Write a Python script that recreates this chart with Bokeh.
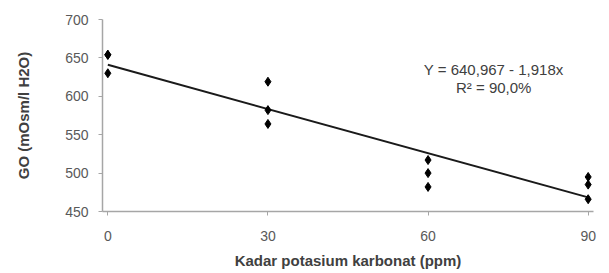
from bokeh.plotting import figure
from bokeh.models import Range1d, FixedTicker, Label
from bokeh.embed import file_html
from bokeh.resources import INLINE

# data
kadar = [0, 0, 0, 30, 30, 30, 60, 60, 60, 90, 90, 90]
go = [654, 654, 630, 619, 582, 564, 517, 500, 482, 495, 485, 466]
intercept = 640.967
slope = -1.918
x_ticks = [0, 30, 60, 90]
y_ticks = [450, 500, 550, 600, 650, 700]
eq_text = "Y = 640,967 - 1,918x"
r2_text = "R² = 90,0%"

p = figure(width=600, height=272, output_backend="svg", toolbar_location=None,
           x_range=Range1d(-1, 91), y_range=Range1d(450, 700),
           min_border_left=102, min_border_right=7, min_border_top=19, min_border_bottom=61)
p.grid.visible = False
p.outline_line_color = None
p.background_fill_color = "white"

for ax in (p.xaxis[0], p.yaxis[0]):
    ax.axis_line_color = "#a6a6a6"
    ax.axis_line_width = 1.5
    ax.major_tick_line_color = "#a6a6a6"
    ax.major_tick_out = 4
    ax.major_tick_in = 0
    ax.minor_tick_line_color = None
    ax.major_label_text_font = "Liberation Sans"
    ax.major_label_text_font_size = "14px"
    ax.major_label_text_color = "#595959"
    ax.axis_label_text_font = "Liberation Sans"
    ax.axis_label_text_font_style = "bold"
    ax.axis_label_text_font_size = "15px"
    ax.axis_label_text_color = "#404040"

p.xaxis.ticker = FixedTicker(ticks=x_ticks)
p.yaxis.ticker = FixedTicker(ticks=y_ticks)
p.xaxis.axis_label = "Kadar potasium karbonat (ppm)"
p.yaxis.axis_label = "GO (mOsm/l H2O)"
p.xaxis.major_label_standoff = 15
p.yaxis.major_label_standoff = 10
p.xaxis.axis_label_standoff = 8
p.yaxis.axis_label_standoff = 30

xs = [x_ticks[0], x_ticks[-1]]
ys = [intercept + slope * x for x in xs]
p.line(xs, ys, line_color="#1a1a1a", line_width=2)
p.scatter(kadar, go, marker="diamond", size=9, color="black")

p.add_layout(Label(x=72.3, y=635, text=eq_text,
                   text_align="center", text_baseline="middle", text_font="Liberation Sans",
                   text_font_size="15px", text_color="#404040"))
p.add_layout(Label(x=72.3, y=611.5, text=r2_text,
                   text_align="center", text_baseline="middle", text_font="Liberation Sans",
                   text_font_size="15px", text_color="#404040"))

open("out.html", "w").write(file_html(p, INLINE))
